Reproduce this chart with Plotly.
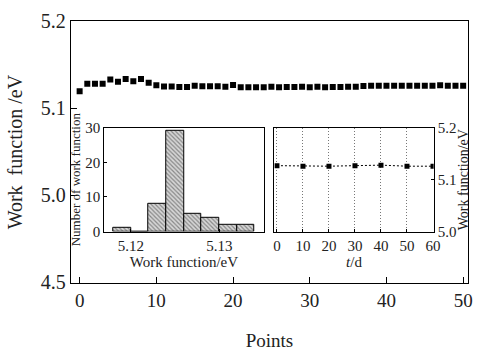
import plotly.graph_objects as go

# Main series: work function at each measurement point
points = list(range(51))
work_function = [5.1194, 5.1280, 5.1280, 5.1280, 5.1330, 5.1305, 5.1337, 5.1310, 5.1337, 5.1293,
                 5.1265, 5.1250, 5.1250, 5.1244, 5.1244, 5.1258, 5.1252, 5.1252, 5.1252, 5.1248,
                 5.1268, 5.1242, 5.1242, 5.1242, 5.1242, 5.1248, 5.1242, 5.1244, 5.1244, 5.1246,
                 5.1242, 5.1246, 5.1242, 5.1244, 5.1244, 5.1246, 5.1246, 5.1256, 5.1258, 5.1258,
                 5.1258, 5.1258, 5.1258, 5.1258, 5.1258, 5.1258, 5.1258, 5.1265, 5.1258, 5.1258,
                 5.1258]

# Histogram inset
bin_centers = [5.119, 5.121, 5.123, 5.125, 5.127, 5.129, 5.131, 5.133]
bin_counts = [1, 0, 8, 29, 5, 4, 2, 2]
bin_width = 0.002

# Stability inset
days = [0, 10, 20, 30, 40, 50, 60]
wf_days = [5.127, 5.126, 5.126, 5.127, 5.128, 5.126, 5.126]

main_yticks = [4.9, 5.0, 5.1, 5.2]
main_yticktext = ["4.5", "5.0", "5.1", "5.2"]

FONT = "Liberation Serif"
INK = "#222"
W, H = 479, 351

def px_x(a, b):
    return [a / W, b / W]

def px_y(top, bottom):
    return [1 - bottom / H, 1 - top / H]

fig = go.Figure()

fig.add_trace(go.Scatter(x=points, y=work_function, mode="markers",
                         marker=dict(symbol="square", size=6, color="black"),
                         xaxis="x", yaxis="y", showlegend=False))

fig.add_trace(go.Bar(x=bin_centers, y=bin_counts, width=bin_width,
                     marker=dict(color="#cfcfcf",
                                 line=dict(color="black", width=1),
                                 pattern=dict(shape="\\", fgcolor="#3a3a3a", bgcolor="#d6d6d6",
                                              size=3, solidity=0.4)),
                     xaxis="x2", yaxis="y2", showlegend=False))

fig.add_trace(go.Scatter(x=days, y=wf_days, mode="lines+markers",
                         line=dict(color="black", width=1, dash="2px,2px"),
                         marker=dict(symbol="square", size=5, color="black"),
                         xaxis="x3", yaxis="y3", showlegend=False))

axis_common = dict(showline=True, linecolor="black", linewidth=1, mirror=True,
                   ticks="inside", tickcolor="black", showgrid=False, zeroline=False,
                   tickfont=dict(family=FONT, color=INK))

fig.update_layout(
    width=W, height=H, margin=dict(l=0, r=0, t=0, b=0),
    paper_bgcolor="white", plot_bgcolor="white",
    font=dict(family=FONT, color=INK),
    bargap=0,
    xaxis=dict(axis_common, domain=px_x(71, 475), range=[-1.15, 50.64],
               tickvals=[0, 10, 20, 30, 40, 50], ticklen=6,
               tickfont=dict(family=FONT, size=19, color=INK),
               title=dict(text="Points", font=dict(family=FONT, size=19, color=INK), standoff=27),
               anchor="y"),
    yaxis=dict(axis_common, domain=px_y(11, 291), range=[4.899, 5.2],
               tickvals=main_yticks, ticktext=main_yticktext, ticklen=6,
               tickfont=dict(family=FONT, size=20, color=INK),
               title=dict(text="Work  function /eV", font=dict(family=FONT, size=20, color=INK), standoff=12),
               anchor="x"),
    xaxis2=dict(axis_common, domain=px_x(105, 267), range=[5.117, 5.135],
                tickvals=[5.12, 5.13], ticktext=["5.12", "5.13"], ticklen=3,
                tickfont=dict(family=FONT, size=15, color=INK),
                title=dict(text="Work function/eV", font=dict(family=FONT, size=15, color=INK), standoff=2),
                anchor="y2"),
    yaxis2=dict(axis_common, domain=px_y(125, 236), range=[0, 30],
                tickvals=[0, 10, 20, 30], ticklen=3,
                tickfont=dict(family=FONT, size=15, color=INK),
                title=dict(text="Number of work function", font=dict(family=FONT, size=13, color=INK), standoff=1),
                anchor="x2"),
    xaxis3=dict(axis_common, domain=px_x(278, 440), range=[-1, 60.25],
                tickvals=days, ticklen=3,
                showgrid=True, gridcolor="#777", griddash="1px,2px", gridwidth=1,
                tickfont=dict(family=FONT, size=15, color=INK),
                title=dict(text="<i>t</i>/d", font=dict(family=FONT, size=15, color=INK), standoff=2),
                anchor="y3"),
    yaxis3=dict(axis_common, domain=px_y(125, 236), range=[5.0, 5.2], side="right",
                tickvals=[5.0, 5.1, 5.2], ticktext=["5.0", "5.1", "5.2"], ticklen=3,
                tickfont=dict(family=FONT, size=15, color=INK),
                title=dict(text="Work function/eV", font=dict(family=FONT, size=14, color=INK), standoff=0),
                anchor="x3"),
)

fig.write_html("out.html")
